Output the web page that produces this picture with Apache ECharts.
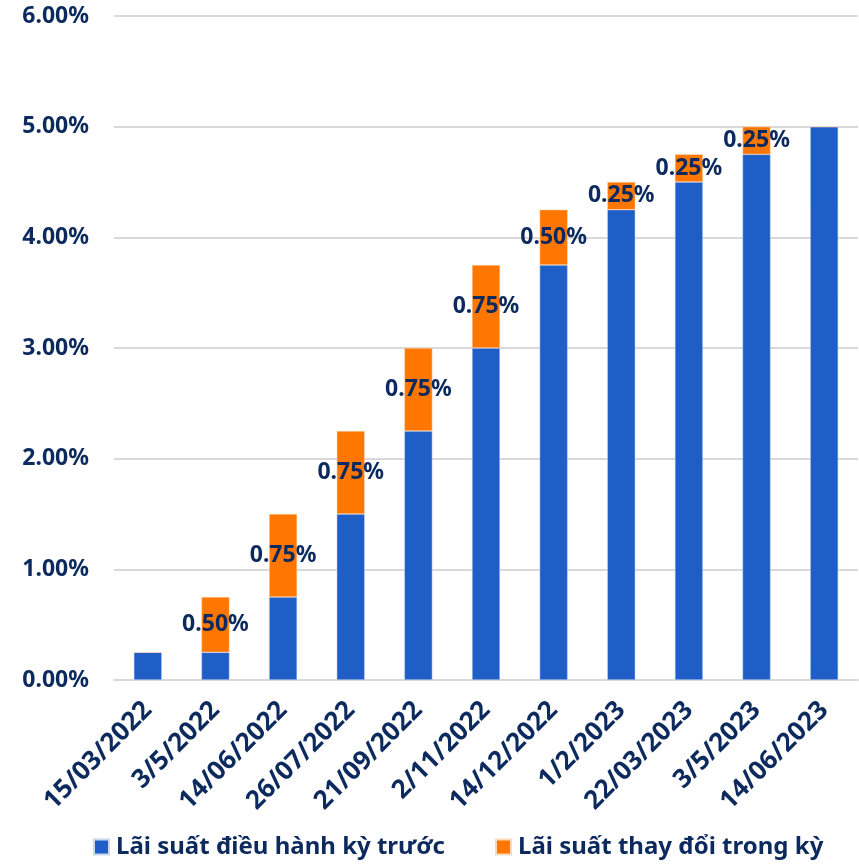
<!DOCTYPE html>
<html>
<head>
<meta charset="utf-8">
<script src="https://cdn.jsdelivr.net/npm/echarts@6/dist/echarts.min.js"></script>
<style>
  html, body { margin: 0; padding: 0; background: #fff; }
  #chart { width: 859px; height: 867px; }
</style>
</head>
<body>
<div id="chart"></div>
<script>
// ngày điều chỉnh lãi suất
const dates = ['15/03/2022', '3/5/2022', '14/06/2022', '26/07/2022', '21/09/2022', '2/11/2022',
  '14/12/2022', '1/2/2023', '22/03/2023', '3/5/2023', '14/06/2023'];
const prevRate = [0.25, 0.25, 0.75, 1.5, 2.25, 3.0, 3.75, 4.25, 4.5, 4.75, 5.0];
const changeRate = [0, 0.5, 0.75, 0.75, 0.75, 0.75, 0.5, 0.25, 0.25, 0.25, 0];
const yTicks = [0, 1, 2, 3, 4, 5, 6];

const navy = '#0c2a5e';
const font = 'Noto Sans';

const chart = echarts.init(document.getElementById('chart'));
chart.setOption({
  animation: false,
  textStyle: { fontFamily: font },
  grid: { left: 114, right: 1, top: 16, bottom: 187 },
  legend: {
    bottom: 3,
    left: 88,
    itemWidth: 15,
    itemHeight: 15,
    itemGap: 50,
    icon: 'rect',
    textStyle: { fontSize: 24, fontWeight: 'bold', color: navy, fontFamily: font, padding: [0, 0, 0, 2] },
    data: ['Lãi suất điều hành kỳ trước', 'Lãi suất thay đổi trong kỳ'],
  },
  xAxis: {
    type: 'category',
    data: dates,
    axisTick: { show: false },
    axisLine: { lineStyle: { color: '#d9d9d9', width: 2 } },
    axisLabel: {
      rotate: 45,
      interval: 0,
      margin: 26,
      fontSize: 26,
      fontWeight: 'bold',
      color: navy,
    },
  },
  yAxis: {
    type: 'value',
    min: yTicks[0],
    max: yTicks[yTicks.length - 1],
    interval: 1,
    axisLine: { show: false },
    axisTick: { show: false },
    splitLine: { lineStyle: { color: '#d9d9d9', width: 2 } },
    axisLabel: {
      margin: 25,
      fontSize: 23,
      fontWeight: 'bold',
      color: navy,
      formatter: (v) => v.toFixed(2) + '%',
    },
  },
  series: [
    {
      name: 'Lãi suất điều hành kỳ trước',
      type: 'bar',
      stack: 'rate',
      barWidth: 28,
      itemStyle: { color: '#1f5ec6', borderColor: '#c9d8f0', borderWidth: 0.5 },
      data: prevRate,
    },
    {
      name: 'Lãi suất thay đổi trong kỳ',
      type: 'bar',
      stack: 'rate',
      barWidth: 28,
      itemStyle: { color: '#ff7700', borderColor: '#ffd9b8', borderWidth: 0.5 },
      label: {
        show: true,
        position: 'inside',
        fontSize: 23,
        fontWeight: 'bold',
        color: navy,
        formatter: (p) => (p.value ? p.value.toFixed(2) + '%' : ''),
      },
      data: changeRate,
    },
  ],
});
</script>
</body>
</html>
